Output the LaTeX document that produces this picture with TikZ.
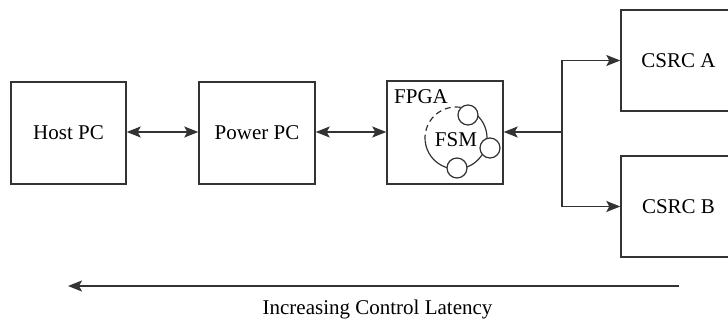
\documentclass[tikz,border=0pt]{standalone}
\usepackage{fontspec}
\setmainfont{Liberation Serif}
\usetikzlibrary{arrows.meta}
\begin{document}
\begin{tikzpicture}[x=1pt,y=-1pt,
  lc/.style={draw=black!80},
  tip/.tip={Stealth[length=14pt,width=11pt,inset=3pt]},
  block/.style={lc, line width=1.4pt, rectangle, minimum height=102pt,
    font=\fontsize{21}{24}\selectfont, inner sep=0pt},
  link/.style={lc, line width=1.4pt, -tip},
  biarrow/.style={lc, line width=1.4pt, tip-tip},
  statering/.style={lc, line width=1.2pt},
  state/.style={lc, line width=1.2pt, circle, fill=white, minimum size=20pt, inner sep=0pt},
  txt/.style={font=\fontsize{21}{24}\selectfont, inner sep=0pt}]
\useasboundingbox (0,0) rectangle (728,320);
\clip (0,0) rectangle (728,320);

% main blocks
\node[block, minimum width=115pt] (host) at (68.5,133) {Host PC};
\node[block, minimum width=116pt] (ppc) at (257,133) {Power PC};
\node[block, minimum width=116pt, minimum height=103pt] (fpga) at (445,132.5) {};
\node[block, minimum width=115pt, minimum height=101pt] (csrca) at (678.5,60.5) {CSRC A};
\node[block, minimum width=115pt, minimum height=101pt] (csrcb) at (678.5,206.5) {CSRC B};

% FPGA contents: label and state machine ring (y axis points down)
\node[txt, anchor=north west] (fpgalbl) at (394,89) {FPGA};
\coordinate (fsmc) at (456,138);
\draw[statering, dashed, dash pattern=on 6pt off 4pt] (fsmc) ++(175:31) arc[start angle=175, end angle=290, radius=31];
\draw[statering] (fsmc) ++(-70:31) arc[start angle=-70, end angle=175, radius=31];
\node[txt] (fsm) at (456,140) {FSM};
\node[state] (s1) at (468,115) {};
\node[state] (s2) at (490,148) {};
\node[state] (s3) at (457,168) {};

% connections
\coordinate (split) at (562,132);
\draw[biarrow] (host.east |- 0,132) -- (ppc.west |- 0,132);
\draw[biarrow] (ppc.east |- 0,132) -- (fpga.west |- 0,132);
\draw[link] (split) -- (fpga.east |- split);
\draw[link] (split) |- (csrca.west);
\draw[link] (split) |- (csrcb.west);

% latency axis
\coordinate (latstart) at (679,286);
\coordinate (latend) at (68,286);
\draw[link] (latstart) -- (latend);
\node[txt, anchor=base] (latlbl) at (377.5,315) {Increasing Control Latency};
\end{tikzpicture}
\end{document}
